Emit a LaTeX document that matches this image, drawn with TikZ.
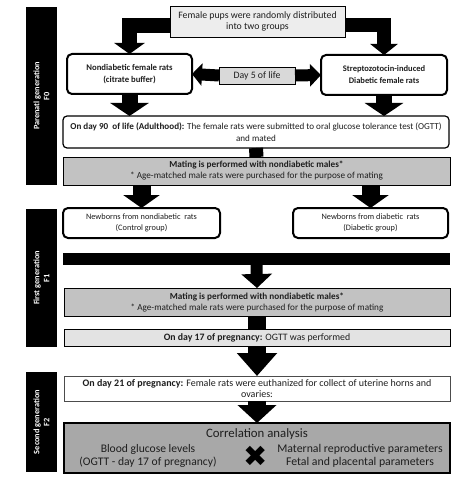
\documentclass[tikz,border=0pt]{standalone}
\usepackage{fontspec}
\setmainfont{Carlito}
\newfontfamily\symfont{DejaVu Sans}
\usetikzlibrary{arrows.meta,calc}
\definecolor{txt}{HTML}{1E1E1E}
\definecolor{fillA}{HTML}{EDEDED}
\definecolor{fillB}{HTML}{D9D9D9}
\definecolor{fillC}{HTML}{C2C2C2}
\definecolor{fillD}{HTML}{E3E3E3}
\definecolor{fillE}{HTML}{A8A8A8}
\tikzset{
  every node/.style={inner sep=0pt, outer sep=0pt, text=txt, align=center},
  roundbox/.style={draw=black, line width=2pt, rounded corners=5pt, fill=white},
  sidebar/.style={fill=black, minimum width=31pt},
  sidetext/.style={rotate=90, text=white, font=\bfseries\fontsize{8.3}{10}\selectfont},
  fatline/.style={draw=black, line width=#1, line join=miter},
}
\begin{document}
\begin{tikzpicture}[x=1pt,y=-1pt]
\useasboundingbox (0,0) rectangle (474,481);
\fill[white] (0,0) rectangle (474,481);

% side bars
\node[sidebar, minimum height=178pt] (sF0) at (41.5,96) {};
\node[sidetext] (tF0) at (sF0.center) {Parenatl generation\\F0};
\node[sidebar, minimum height=138pt] (sF1) at (41.5,278) {};
\node[sidetext] (tF1) at (sF1.center) {First generation\\F1};
\node[sidebar, minimum height=100pt] (sF2) at (41.5,422) {};
\node[sidetext] (tF2) at (sF2.center) {Second generation\\F2};

% boxes
\node[draw=black, line width=0.8pt, fill=fillA, minimum width=175pt, minimum height=31pt,
      font=\fontsize{9.8}{11.5}\selectfont] (top) at (257.5,21.5)
      {Female pups were randomly distributed\\into two groups};
\node[roundbox, minimum width=125pt, minimum height=40pt, font=\bfseries\fontsize{8.7}{12}\selectfont]
      (nd) at (129.5,74) {Nondiabetic female rats\\(citrate buffer)};
\node[roundbox, minimum width=126pt, minimum height=40pt, font=\bfseries\fontsize{8.5}{12}\selectfont]
      (db) at (384,75) {Streptozotocin-induced\\Diabetic female rats};
\node[draw=black, line width=0.8pt, fill=fillB, minimum width=76pt, minimum height=17pt,
      font=\fontsize{9.8}{11}\selectfont] (day5) at (257,75.5) {Day 5 of life};
\node[draw=black, line width=1.2pt, rounded corners=4pt, minimum width=386pt, minimum height=32pt,
      font=\fontsize{9.1}{11.5}\selectfont] (d90) at (256,132)
      {\textbf{On day 90\ \ of life (Adulthood):} The female rats were submitted to oral glucose tolerance test (OGTT)\\and mated};
\node[draw=black, line width=0.8pt, fill=fillC, minimum width=387pt, minimum height=28pt,
      font=\fontsize{9.2}{11}\selectfont] (mat1) at (256.5,171)
      {\textbf{Mating is performed with nondiabetic males*}\\* Age-matched male rats were purchased for the purpose of mating};
\node[roundbox, minimum width=157pt, minimum height=30pt, font=\fontsize{8.3}{11.5}\selectfont]
      (nbL) at (141.5,223) {Newborns from nondiabetic\ \ rats\\(Control group)};
\node[roundbox, minimum width=155pt, minimum height=30pt, font=\fontsize{8.3}{11.5}\selectfont]
      (nbR) at (370.5,223) {Newborns from diabetic\ \ rats\\(Diabetic group)};
\node[fill=black, minimum width=387pt, minimum height=12pt] (bar) at (256.5,259) {};
\node[draw=black, line width=0.8pt, fill=fillC, minimum width=386pt, minimum height=28pt,
      font=\fontsize{9.2}{11}\selectfont] (mat2) at (257,302)
      {\textbf{Mating is performed with nondiabetic males*}\\* Age-matched male rats were purchased for the purpose of mating};
\node[draw=black, line width=0.8pt, fill=fillD, minimum width=386pt, minimum height=17pt,
      font=\fontsize{9.8}{11}\selectfont] (ogtt) at (257,337.5)
      {\textbf{On day 17 of pregnancy:} OGTT was performed};
\node[draw=black!70, line width=0.8pt, fill=white, minimum width=386pt, minimum height=25pt,
      font=\fontsize{10}{11.5}\selectfont] (d21) at (257,388.5)
      {\textbf{On day 21 of pregnancy:} Female rats were euthanized for collect of uterine horns and\\ovaries:};
\node[draw=black, line width=2pt, fill=fillE, minimum width=386pt, minimum height=50pt] (corr) at (257,448) {};
\node[font=\fontsize{12.8}{14}\selectfont] (ctitle) at (257,434) {Correlation analysis};
\node[font=\fontsize{11.6}{13}\selectfont] (cleft) at (148,455.5) {Blood glucose levels\\(OGTT - day 17 of pregnancy)};
\node[font=\fontsize{11.8}{13}\selectfont] (cright) at (360,455.5) {Maternal reproductive parameters\\Fetal and placental parameters};
\node[font=\symfont\fontsize{29}{29}\selectfont, text=black] (cx) at (256,456) {✖};

% connectors
\draw[fatline=15pt, -{Triangle[width=30pt,length=11pt]}] ([yshift=-4pt]top.west) -| (nd.north);
\draw[fatline=14pt, -{Triangle[width=27pt,length=11pt]}] ([yshift=-4pt]top.east) -| (db.north);
\draw[fatline=12pt, -{Triangle[width=22pt,length=10pt]}] (day5.west) -- (nd.east);
\draw[fatline=12pt, -{Triangle[width=22pt,length=11pt]}] (day5.east) -- (db.west);
\draw[fatline=16pt, -{Triangle[width=38pt,length=13pt]}] (nd.south) -- (nd.south |- d90.north);
\draw[fatline=16pt, -{Triangle[width=38pt,length=13pt]}] (db.south) -- (db.south |- d90.north);
\draw[fatline=14pt] (d90.south) -- (mat1.north);
\draw[fatline=18pt, -{Triangle[width=36pt,length=13pt]}] (mat1.south -| nbL.north) -- (nbL.north);
\draw[fatline=18pt, -{Triangle[width=36pt,length=13pt]}] (mat1.south -| nbR.north) -- (nbR.north);
\draw[fatline=12pt, -{Triangle[width=30pt,length=14pt]}] (bar.south) -- (mat2.north);
\draw[fatline=18pt] (mat2.south) -- (ogtt.north);
\draw[fatline=18pt, -{Triangle[width=39pt,length=23pt]}] (ogtt.south) -- (d21.north);
\draw[fatline=18pt, -{Triangle[width=38pt,length=18pt]}] (d21.south) -- (corr.north);
\end{tikzpicture}
\end{document}
